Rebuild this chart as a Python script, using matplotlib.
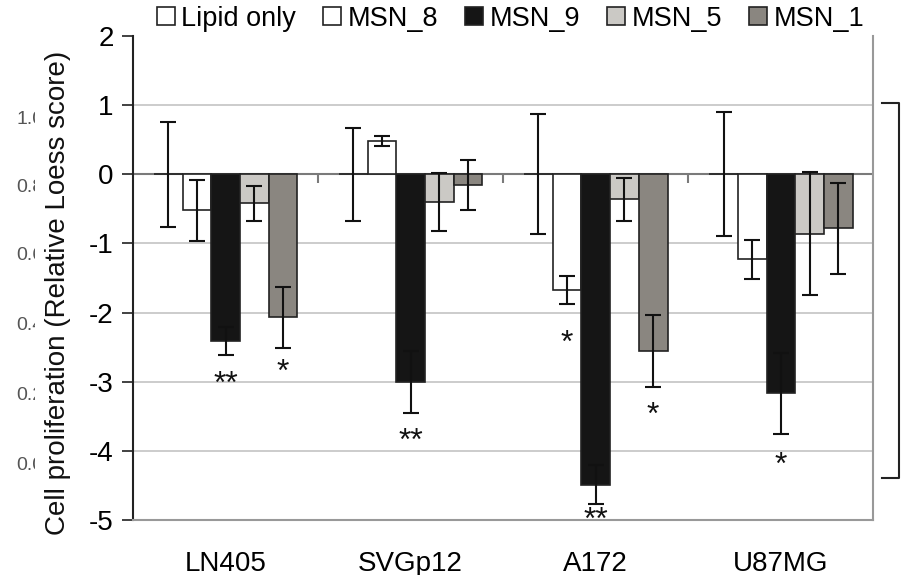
import numpy as np
import matplotlib
matplotlib.use("Agg")
import matplotlib.pyplot as plt
from matplotlib.lines import Line2D
from matplotlib.transforms import Bbox

plt.rcParams["font.family"] = ["Liberation Sans", "DejaVu Sans"]

# ============================
# DATA
# ============================
cell_lines = ["LN405", "SVGp12", "A172", "U87MG"]
series = ["Lipid only", "MSN_8", "MSN_9", "MSN_5", "MSN_1"]
colors = ["white", "white", "#151515", "#cbc9c5", "#8a8680"]

lipid_only = [0.0, 0.0, 0.0, 0.0]
msn_8 = [-0.52, 0.48, -1.67, -1.23]
msn_9 = [-2.41, -3.00, -4.49, -3.17]
msn_5 = [-0.42, -0.40, -0.36, -0.86]
msn_1 = [-2.07, -0.15, -2.56, -0.78]

lipid_only_err = [0.76, 0.67, 0.87, 0.90]
msn_8_err = [0.44, 0.07, 0.20, 0.28]
msn_9_err = [0.20, 0.45, 0.28, 0.58]
msn_5_err = [0.25, 0.42, 0.31, 0.89]
msn_1_err = [0.44, 0.36, 0.52, 0.66]

# significance marks: (cell line index, series index, y position, text)
star_cell = [0, 0, 1, 2, 2, 2, 3]
star_series = [2, 4, 2, 1, 2, 4, 2]
star_y = [-3.05, -2.88, -3.87, -2.45, -5.02, -3.50, -4.22]
star_txt = ["**", "*", "**", "*", "**", "*", "*"]

# leftover axis labels from an underlying plot (cut off on the left)
ghost_labels = ["1.0", "0.8", "0.6", "0.4", "0.2", "0.0"]
ghost_y = [119, 187, 256, 326, 395, 465]

values = [lipid_only, msn_8, msn_9, msn_5, msn_1]
errors = [lipid_only_err, msn_8_err, msn_9_err, msn_5_err, msn_1_err]

# ============================
# PLOT
# ============================
fig = plt.figure(figsize=(9.06, 5.75), dpi=100)
ax = fig.add_axes([0.1468, 0.0957, 0.8173, 0.8417])

x = np.arange(len(cell_lines))
w = 0.155

for gy in [1, -1, -2, -3, -4]:
    ax.axhline(gy, color="#c8c8c8", lw=1.3, zorder=0)

handles = []
for i, name in enumerate(series):
    pos = x + (i - 2) * w
    bars = ax.bar(pos, values[i], width=w, color=colors[i], edgecolor="#222222",
                  linewidth=1.2, zorder=2, label=name)
    ax.errorbar(pos, values[i], yerr=errors[i], fmt="none", ecolor="#111111",
                elinewidth=1.5, capsize=6, capthick=1.5, zorder=3)
    handles.append(bars)

# axis line through zero with category tick marks
ax.axhline(0, color="#7a7a7a", lw=1.5, zorder=1.5)
ax.vlines(x[:-1] + 0.5, -0.12, 0, color="#7a7a7a", lw=1.5, zorder=1.5)

for c, s, yv, t in zip(star_cell, star_series, star_y, star_txt):
    ax.text(x[c] + (s - 2) * w, yv, t, ha="center", va="center", fontsize=23,
            color="#111111", zorder=4)

ax.set_xlim(-0.5, len(cell_lines) - 0.5)
ax.set_ylim(-5, 2)
ax.set_yticks(range(-5, 3))
ax.set_yticklabels([str(v) for v in range(-5, 3)])
ax.set_xticks(x)
ax.set_xticklabels(cell_lines)
ax.tick_params(axis="x", length=0, labelsize=20, pad=22)
ax.tick_params(axis="y", length=8, width=1.3, labelsize=20, pad=6, color="#333333")

ax.spines["top"].set_visible(False)
ax.spines["left"].set_color("#222222")
ax.spines["left"].set_linewidth(1.5)
for side in ["bottom", "right"]:
    ax.spines[side].set_color("#999999")
    ax.spines[side].set_linewidth(1.5)

fig.text(0.064, 0.49, "Cell proliferation (Relative Loess score)", rotation=90,
         ha="center", va="center", fontsize=20, color="#111111")

ax.legend(handles=handles, loc="center", bbox_to_anchor=(0.51, 1.036), ncol=5,
          frameon=False, fontsize=19.5, handlelength=0.65, handleheight=0.65,
          handletextpad=0.25, columnspacing=1.0, borderaxespad=0.0)

# ghost tick labels, clipped at x = 35 px
for lab, gy in zip(ghost_labels, ghost_y):
    t = fig.text(16 / 906, 1 - gy / 575, lab, ha="left", va="center", fontsize=14,
                 color="#555555")
    t.set_clip_box(Bbox([[0, 0], [35, 575]]))
    t.set_clip_on(True)

# bracket on the right
bx0, bx1, by0, by1 = 882 / 906, 899 / 906, 1 - 103 / 575, 1 - 478 / 575
fig.add_artist(Line2D([bx0, bx1, bx1, bx0], [by0, by0, by1, by1],
                      transform=fig.transFigure, color="#222222", lw=1.5))

fig.savefig("out.png", dpi=100)
